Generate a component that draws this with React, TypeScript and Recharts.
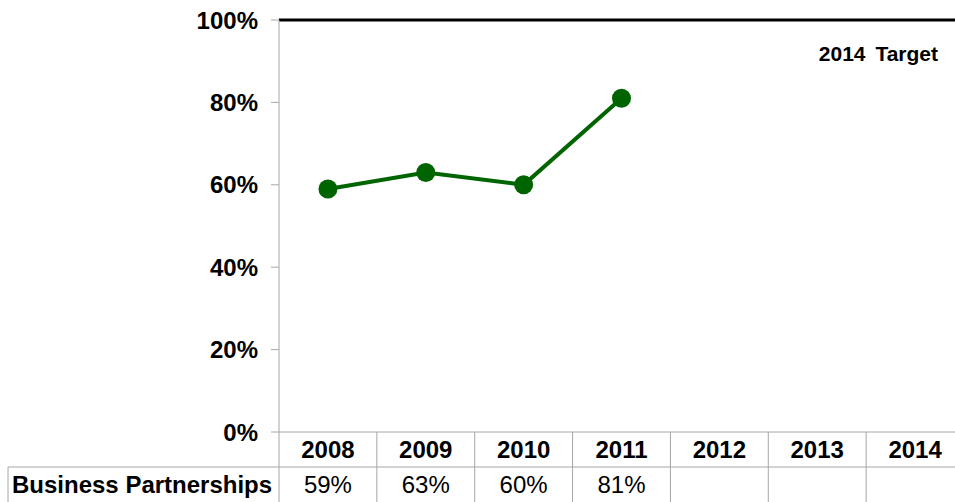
import { LineChart, Line, XAxis, YAxis, ReferenceLine } from 'recharts'

const years = ['2008', '2009', '2010', '2011', '2012', '2013', '2014']
const partnerships: (number | null)[] = [59, 63, 60, 81, null, null, null]
const yTicks = [0, 20, 40, 60, 80, 100]
const targetValue = 100
const rowLabel = 'Business Partnerships'
const targetLabel = '2014 Target'

const FONT = '"Liberation Sans", Arial, sans-serif'
const GREEN = '#006400'
const GRID = '#a6a6a6'

const CHART_W = 970
const CHART_H = 504
const TOP = 20
const RIGHT = 6
const Y_AXIS_W = 279
const X_AXIS_H = 72
const PLOT_H = CHART_H - TOP - X_AXIS_H
const AXIS_Y = TOP + PLOT_H
const ROW_H = 35

const data = years.map((y, i) => ({ year: y, value: partnerships[i] }))

// each x tick draws one column of the data table underneath the plot
function TableTick(props: any) {
  const { x, payload, index } = props
  const half = payload?.offset || (CHART_W - RIGHT - Y_AXIS_W) / years.length / 2
  const v = partnerships[index]
  const rowY = AXIS_Y + ROW_H
  return (
    <g>
      {index === 0 && (
        <g>
          <line x1={x - half} x2={x - half} y1={AXIS_Y} y2={CHART_H} stroke={GRID} />
          <line x1={8} x2={x - half} y1={rowY} y2={rowY} stroke={GRID} />
          <line x1={8} x2={8} y1={rowY} y2={CHART_H} stroke={GRID} />
          <text x={12} y={rowY + 26} fontSize={24} fontWeight="bold" fontFamily={FONT} fill="#000">
            {rowLabel}
          </text>
        </g>
      )}
      <line x1={x + half} x2={x + half} y1={AXIS_Y} y2={CHART_H} stroke={GRID} />
      <line x1={x - half} x2={x + half} y1={rowY} y2={rowY} stroke={GRID} />
      <text x={x} y={AXIS_Y + 26} textAnchor="middle" fontSize={24} fontWeight="bold" fontFamily={FONT} fill="#000">
        {payload.value}
      </text>
      <text x={x} y={rowY + 26} textAnchor="middle" fontSize={24} fontFamily={FONT} fill="#000">
        {v == null ? '' : `${v}%`}
      </text>
    </g>
  )
}

export default function App() {
  return (
    <div style={{
      position: 'absolute', left: 0, top: 0,
      width: 955, height: 502, overflow: 'hidden', background: 'white',
    }}>
      <LineChart width={CHART_W} height={CHART_H} data={data}
        margin={{ top: TOP, right: RIGHT, bottom: 0, left: 0 }}>
        <XAxis
          dataKey="year" scale="band" height={X_AXIS_H} interval={0}
          axisLine={{ stroke: GRID }} tickLine={false}
          tick={<TableTick />}
        />
        <YAxis
          width={Y_AXIS_W} domain={[0, 100]} ticks={yTicks}
          tickFormatter={(v: number) => `${v}%`}
          axisLine={{ stroke: GRID }} tickLine={{ stroke: GRID }}
          tickSize={8} tickMargin={13}
          tick={{ fontSize: 24, fontWeight: 'bold', fill: '#000', fontFamily: FONT }}
        />
        <ReferenceLine
          y={targetValue} stroke="#000" strokeWidth={3}
          label={{
            value: targetLabel, position: 'insideTopRight', offset: 26,
            fontSize: 21, fontWeight: 'bold', fill: '#000', fontFamily: FONT,
            style: { whiteSpace: 'pre', wordSpacing: 4 },
          }}
        />
        <Line
          type="linear" dataKey="value" stroke={GREEN} strokeWidth={4}
          dot={{ r: 9.5, fill: GREEN, stroke: GREEN, strokeWidth: 0 }}
          activeDot={false} isAnimationActive={false}
        />
      </LineChart>
    </div>
  )
}
